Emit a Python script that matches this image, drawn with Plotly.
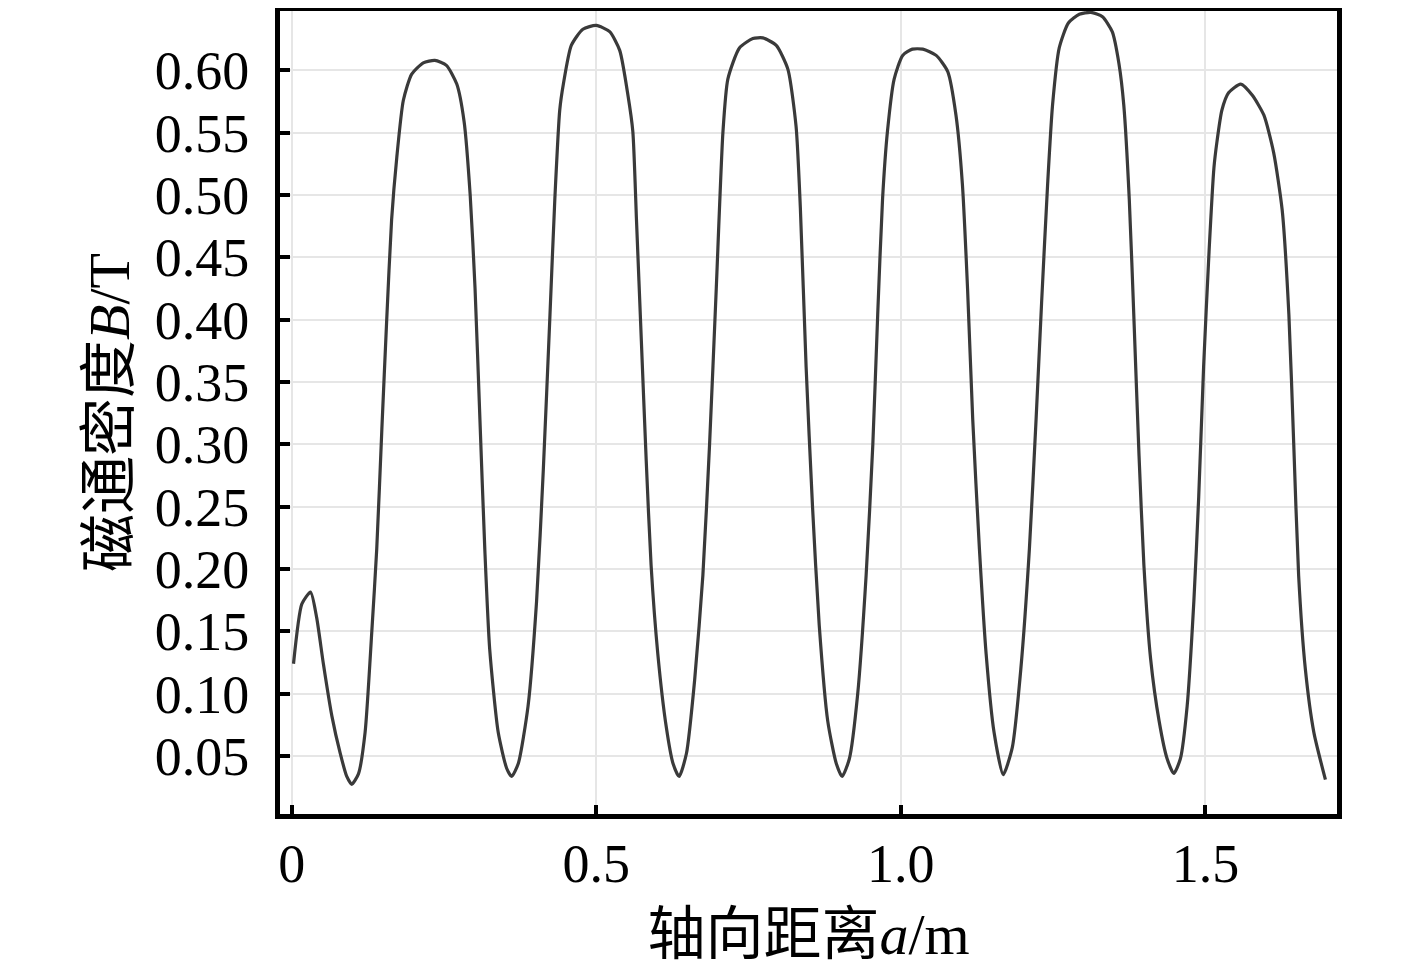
import plotly.graph_objects as go

# Axial distance a (m) and flux density B (T)
axial_distance = [
    0.003, 0.0167, 0.031, 0.041, 0.052, 0.066, 0.0795, 0.0904, 0.0986, 0.1096,
    0.1205, 0.1314, 0.1396, 0.148, 0.156, 0.164, 0.1725, 0.1833, 0.197, 0.216,
    0.235, 0.254, 0.271, 0.283, 0.293, 0.301, 0.309, 0.317, 0.325, 0.339,
    0.353, 0.361, 0.372, 0.388, 0.402, 0.413, 0.424, 0.432, 0.440, 0.446,
    0.459, 0.478, 0.500, 0.522, 0.5385, 0.552, 0.560, 0.566, 0.574, 0.582,
    0.590, 0.601, 0.615, 0.626, 0.636, 0.648, 0.6615, 0.675, 0.686, 0.697,
    0.708, 0.716, 0.735, 0.757, 0.7735, 0.7955, 0.8145, 0.828, 0.835, 0.8445,
    0.855, 0.866, 0.880, 0.894, 0.9036, 0.9156, 0.929, 0.943, 0.954, 0.962,
    0.970, 0.978, 0.989, 1.003, 1.019, 1.036, 1.058, 1.077, 1.0905, 1.101,
    1.1095, 1.118, 1.129, 1.140, 1.153, 1.168, 1.183, 1.197, 1.211, 1.222,
    1.231, 1.241, 1.249, 1.260, 1.275, 1.293, 1.312, 1.331, 1.347, 1.358,
    1.366, 1.375, 1.383, 1.391, 1.399, 1.410, 1.424, 1.437, 1.448, 1.459,
    1.470, 1.481, 1.489, 1.497, 1.506, 1.514, 1.519, 1.527, 1.538, 1.558,
    1.577, 1.596, 1.612, 1.626, 1.637, 1.645, 1.653, 1.664, 1.678, 1.697,
]
flux_density = [
    0.124, 0.172, 0.1815, 0.161, 0.124, 0.082, 0.0525, 0.0336, 0.0273, 0.0357,
    0.069, 0.149, 0.216, 0.312, 0.400, 0.480, 0.530, 0.576, 0.597, 0.606,
    0.608, 0.604, 0.589, 0.559, 0.500, 0.425, 0.320, 0.216, 0.136, 0.069,
    0.040, 0.0336, 0.044, 0.090, 0.174, 0.279, 0.404, 0.497, 0.568, 0.589,
    0.620, 0.633, 0.636, 0.631, 0.616, 0.580, 0.551, 0.480, 0.383, 0.287,
    0.203, 0.132, 0.073, 0.044, 0.0336, 0.052, 0.111, 0.195, 0.300, 0.425,
    0.551, 0.593, 0.618, 0.6255, 0.626, 0.620, 0.601, 0.555, 0.490, 0.362,
    0.250, 0.155, 0.078, 0.044, 0.0336, 0.048, 0.099, 0.195, 0.300, 0.404,
    0.497, 0.551, 0.593, 0.612, 0.617, 0.617, 0.612, 0.599, 0.564, 0.509,
    0.425, 0.320, 0.216, 0.132, 0.069, 0.035, 0.057, 0.120, 0.216, 0.320,
    0.413, 0.509, 0.572, 0.618, 0.638, 0.645, 0.6465, 0.643, 0.631, 0.6055,
    0.572, 0.4965, 0.396, 0.291, 0.203, 0.128, 0.078, 0.048, 0.036, 0.048,
    0.090, 0.174, 0.258, 0.362, 0.455, 0.522, 0.543, 0.568, 0.582, 0.589,
    0.580, 0.564, 0.534, 0.488, 0.404, 0.300, 0.195, 0.120, 0.069, 0.031,
]

x_ticks = [0, 0.5, 1.0, 1.5]
x_tick_labels = ["0", "0.5", "1.0", "1.5"]
y_ticks = [0.05, 0.10, 0.15, 0.20, 0.25, 0.30, 0.35, 0.40, 0.45, 0.50, 0.55, 0.60]
y_tick_labels = [f"{v:.2f}" for v in y_ticks]

FONT = "Liberation Serif, Times New Roman, Noto Sans CJK SC, serif"

fig = go.Figure()
fig.add_trace(go.Scatter(
    x=axial_distance,
    y=flux_density,
    mode="lines",
    line=dict(color="#3a3a3a", width=3.2, shape="spline", smoothing=0.6),
    showlegend=False,
))

fig.update_layout(
    width=1417,
    height=976,
    autosize=False,
    margin=dict(l=272, r=88, t=3, b=170),
    plot_bgcolor="white",
    paper_bgcolor="white",
    font=dict(family=FONT, color="black", size=54),
    xaxis=dict(
        range=[-0.0192, 1.716],
        tickvals=x_ticks,
        ticktext=x_tick_labels,
        ticks="inside",
        ticklen=9,
        tickwidth=4,
        tickcolor="black",
        showline=True,
        linecolor="black",
        linewidth=5,
        mirror=True,
        showgrid=True,
        gridcolor="#e6e6e6",
        gridwidth=2,
        zeroline=False,
        automargin=False,
        ticklabelstandoff=-2,
        tickfont=dict(family=FONT, size=54),
        title=dict(text="轴向距离<i>a</i>/m", font=dict(family=FONT, size=58), standoff=22),
    ),
    yaxis=dict(
        range=[0.0035, 0.6476],
        tickvals=y_ticks,
        ticktext=y_tick_labels,
        ticks="inside",
        ticklen=10,
        tickwidth=4,
        tickcolor="black",
        showline=True,
        linecolor="black",
        linewidth=5,
        mirror=True,
        showgrid=True,
        gridcolor="#e6e6e6",
        gridwidth=2,
        zeroline=False,
        automargin=False,
        ticklabelstandoff=15,
        tickfont=dict(family=FONT, size=54),
        title=dict(text="磁通密度<i>B</i>/T", font=dict(family=FONT, size=58), standoff=8),
    ),
)

fig.write_html("out.html")
